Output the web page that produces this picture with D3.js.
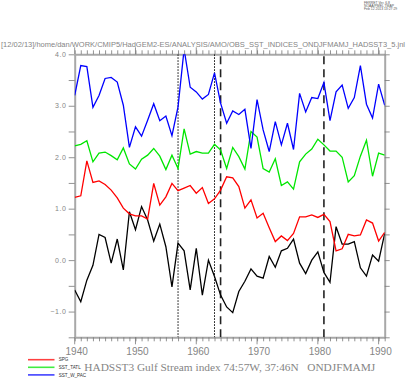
<!DOCTYPE html>
<html>
<head>
<meta charset="utf-8">
<script src="https://cdn.jsdelivr.net/npm/d3@7"></script>
<style>
	body { margin: 0; background: #fff; }
	svg { display: block; }
</style>
</head>
<body>
<svg id="svgPlot" width="409" height="378"></svg>
<script>
// Ferret style time series plot of the SST indices

var years = [1940, 1941, 1942, 1943, 1944, 1945, 1946, 1947, 1948, 1949,
	1950, 1951, 1952, 1953, 1954, 1955, 1956, 1957, 1958, 1959,
	1960, 1961, 1962, 1963, 1964, 1965, 1966, 1967, 1968, 1969,
	1970, 1971, 1972, 1973, 1974, 1975, 1976, 1977, 1978, 1979,
	1980, 1981, 1982, 1983, 1984, 1985, 1986, 1987, 1988, 1989,
	1990, 1991];

var gulfStream = [-0.58, -0.81, -0.39, -0.10, 0.50, 0.44, -0.06, 0.41, -0.19, 0.94,
	0.59, 1.04, 0.78, 0.37, 0.70, 0.26, -0.52, 0.33, 0.18, -0.58,
	0.23, -0.68, 0.00, -0.32, -0.68, -0.91, -1.02, -0.61, -0.41, -0.17,
	-0.31, -0.35, 0.07, -0.14, 0.18, 0.23, 0.41, -0.06, -0.26, 0.00,
	0.16, -0.24, -0.43, 0.65, 0.31, 0.31, 0.36, -0.15, -0.31, 0.10,
	-0.02, 0.52];

var spg = [1.22, 1.25, 1.93, 1.51, 1.54, 1.47, 1.36, 1.21, 1.01, 0.90,
	0.86, 0.86, 0.80, 1.49, 1.07, 1.23, 1.49, 1.35, 1.40, 1.45,
	1.30, 1.41, 1.10, 1.19, 1.36, 1.62, 1.60, 1.43, 1.01, 1.17,
	0.82, 0.91, 0.63, 0.36, 0.47, 0.38, 0.52, 0.84, 0.84, 0.88,
	0.83, 0.89, 0.75, 0.18, 0.22, 0.50, 0.47, 0.49, 0.78, 0.72,
	0.37, 0.54];

var sstTatl = [2.22, 2.25, 2.32, 1.91, 2.08, 2.10, 2.03, 1.95, 2.18, 1.87,
	1.77, 1.96, 2.04, 2.17, 2.02, 1.76, 2.04, 1.78, 2.55, 2.06,
	2.11, 2.08, 2.08, 2.25, 2.14, 1.78, 2.19, 2.01, 1.77, 2.50,
	2.39, 1.78, 1.71, 1.97, 1.45, 1.52, 1.38, 1.91, 2.06, 2.16,
	2.35, 2.24, 2.12, 2.12, 2.00, 1.52, 1.64, 2.02, 2.33, 1.63,
	2.08, 2.04];

var sstWPac = [3.20, 3.78, 3.76, 2.97, 3.20, 3.53, 3.55, 3.46, 3.01, 2.19,
	2.59, 2.41, 2.72, 3.04, 2.71, 2.80, 2.42, 2.98, 4.10, 3.36,
	3.27, 3.13, 3.22, 3.64, 3.05, 2.66, 2.90, 2.83, 2.93, 2.17,
	3.12, 2.53, 2.11, 2.69, 2.24, 2.66, 2.15, 3.24, 2.88, 3.16,
	3.14, 3.45, 2.71, 3.27, 3.40, 2.95, 3.16, 3.78, 3.03, 2.76,
	3.42, 3.01];

var xTickValues = [1940, 1950, 1960, 1970, 1980, 1990];
var yTickValues = [-1, 0, 1, 2, 3, 4];
var dottedYears = [1957, 1963];
var dashedYears = [1964, 1981];

var seriesNames = ["SPG", "SST_TATL", "SST_W_PAC"];
var colors = ["rgb(255,0,0)", "rgb(0,230,0)", "rgb(0,0,255)"];

var titleText = "[12/02/13]/home/dan/WORK/CMIP5/HadGEM2-ES/ANALYSIS/AMO/OBS_SST_INDICES_ONDJFMAMJ_HADSST3_5.jnl";
var captionText = "HADSST3 Gulf Stream index 74:57W, 37:46N   ONDJFMAMJ";
var stampLines = ["FERRET Ver. 6.8", "NOAA/PMEL TMAP", "Feb 12 2013 13:27:29"];

var svg = d3.select("#svgPlot");
var plotLeft = 74.7, plotRight = 384.7, plotTop = 54.3, plotBottom = 337.3;
var axisGray = "#a8a8a8";
var textGray = "#858585";

var x = d3.scaleLinear().domain([1940, 1991]).range([plotLeft, plotRight]);
var y = d3.scaleLinear().domain([-1.5, 4.0]).range([plotBottom, plotTop]);

// stamp and journal file name
var stamp = svg.append("g");
stamp.selectAll("text")
	.data(stampLines)
	.enter()
	.append("text")
	.attr("x", 364)
	.attr("y", function(d, i) { return 3.5 + 3.2 * i; })
	.style("font-family", "Liberation Sans, sans-serif")
	.style("font-size", "3.4px")
	.attr("fill", "#555")
	.text(function(d) { return d; });

svg.append("text")
	.attr("x", 1)
	.attr("y", 47)
	.attr("textLength", 404)
	.attr("lengthAdjust", "spacingAndGlyphs")
	.style("font-family", "Liberation Sans, sans-serif")
	.style("font-size", "7.3px")
	.attr("fill", textGray)
	.text(titleText);

// axes: every year on top/bottom, every 0.5 on left/right
var yearTicks = d3.range(1940, 1992);
var halfTicks = d3.range(-1.5, 4.01, 0.5);

var bottomAxis = d3.axisBottom(x).tickValues(yearTicks).tickFormat("")
	.tickSizeInner(4).tickSizeOuter(0);
var topAxis = d3.axisTop(x).tickValues(yearTicks).tickFormat("")
	.tickSizeInner(4).tickSizeOuter(0);
var leftAxis = d3.axisLeft(y).tickValues(halfTicks).tickFormat("")
	.tickSizeInner(6).tickSizeOuter(0);
var rightAxis = d3.axisRight(y).tickValues(halfTicks).tickFormat("")
	.tickSizeInner(5).tickSizeOuter(0);

function styleAxis(g) {
	g.select(".domain").attr("stroke", axisGray).attr("stroke-width", 2);
	g.selectAll(".tick line").attr("stroke", "#777").attr("stroke-width", 0.8);
}

svg.append("g").attr("transform", "translate(0," + plotBottom + ")").call(bottomAxis).call(styleAxis);
svg.append("g").attr("transform", "translate(0," + plotTop + ")").call(topAxis).call(styleAxis);
svg.append("g").attr("transform", "translate(" + plotLeft + ",0)").call(leftAxis).call(styleAxis);
svg.append("g").attr("transform", "translate(" + plotRight + ",0)").call(rightAxis).call(styleAxis);

// longer ticks at the decades
var decadeTicks = svg.append("g");
decadeTicks.selectAll("line.b")
	.data(xTickValues)
	.enter()
	.append("line")
	.attr("x1", function(d) { return x(d); })
	.attr("x2", function(d) { return x(d); })
	.attr("y1", plotBottom)
	.attr("y2", plotBottom + 7)
	.attr("stroke", "#777")
	.attr("stroke-width", 0.8);
decadeTicks.selectAll("line.t")
	.data(xTickValues)
	.enter()
	.append("line")
	.attr("x1", function(d) { return x(d); })
	.attr("x2", function(d) { return x(d); })
	.attr("y1", plotTop)
	.attr("y2", plotTop - 7)
	.attr("stroke", "#777")
	.attr("stroke-width", 0.8);

// tick labels
svg.append("g").selectAll("text")
	.data(xTickValues)
	.enter()
	.append("text")
	.attr("x", function(d) { return x(d) + 2; })
	.attr("y", 355.3)
	.attr("text-anchor", "middle")
	.style("font-family", "Liberation Sans, sans-serif")
	.style("font-size", "10px")
	.attr("fill", textGray)
	.text(function(d) { return d; });

svg.append("g").selectAll("text")
	.data(yTickValues)
	.enter()
	.append("text")
	.attr("x", 66.5)
	.attr("y", function(d) { return y(d) + 2.5; })
	.attr("text-anchor", "end")
	.style("font-family", "Liberation Sans, sans-serif")
	.style("font-size", "7px")
	.style("letter-spacing", "0.6px")
	.attr("fill", textGray)
	.text(function(d) { return d < 0 ? "\u2212" + Math.abs(d).toFixed(1) : d.toFixed(1); });

// plot lines, clipped to the frame
svg.append("clipPath").attr("id", "plotClip")
	.append("rect")
	.attr("x", plotLeft).attr("y", plotTop)
	.attr("width", plotRight - plotLeft).attr("height", plotBottom - plotTop);

var plotG = svg.append("g").attr("clip-path", "url(#plotClip)");

// event markers
plotG.selectAll("line.dot")
	.data(dottedYears)
	.enter()
	.append("line")
	.attr("x1", function(d) { return x(d); })
	.attr("x2", function(d) { return x(d); })
	.attr("y1", plotTop)
	.attr("y2", plotBottom)
	.attr("stroke", "#000")
	.attr("stroke-width", 1)
	.attr("stroke-dasharray", "1.5,1.5");
plotG.selectAll("line.dash")
	.data(dashedYears)
	.enter()
	.append("line")
	.attr("x1", function(d) { return x(d); })
	.attr("x2", function(d) { return x(d); })
	.attr("y1", plotTop + 2)
	.attr("y2", plotBottom)
	.attr("stroke", "#222")
	.attr("stroke-width", 1.6)
	.attr("stroke-dasharray", "8,5");

var lineMaker = d3.line()
	.x(function(d, i) { return x(years[i]); })
	.y(function(d) { return y(d); });

var allSeries = [gulfStream, spg, sstTatl, sstWPac];
var lineColors = ["#000", colors[0], colors[1], colors[2]];
for (var s = 0; s < allSeries.length; s++) {
	plotG.append("path")
		.datum(allSeries[s])
		.attr("d", lineMaker)
		.attr("fill", "none")
		.attr("stroke", lineColors[s])
		.attr("stroke-width", 1.3)
		.attr("stroke-linejoin", "miter");
}

// legend
var legend = svg.append("g");
for (var i = 0; i < seriesNames.length; i++) {
	let ly = 359.7 + 7.6 * i;
	legend.append("line")
		.attr("x1", 28).attr("x2", 54.5)
		.attr("y1", ly).attr("y2", ly)
		.attr("stroke", colors[i])
		.attr("stroke-opacity", 0.75)
		.attr("stroke-width", 1.6);
	legend.append("text")
		.attr("x", 58.7)
		.attr("y", ly + 1.6)
		.style("font-family", "Liberation Sans, sans-serif")
		.style("font-size", "4.6px")
		.attr("fill", "#333")
		.text(seriesNames[i]);
}

svg.append("text")
	.attr("x", 84.3)
	.attr("y", 370.6)
	.attr("textLength", 291)
	.attr("lengthAdjust", "spacingAndGlyphs")
	.style("font-family", "Liberation Serif, serif")
	.style("font-size", "10.5px")
	.style("white-space", "pre")
	.attr("fill", textGray)
	.text(captionText);
</script>
</body>
</html>
